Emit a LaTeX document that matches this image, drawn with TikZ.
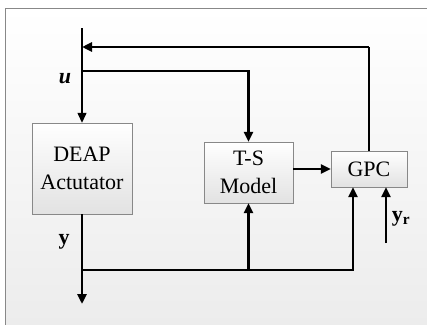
\documentclass[tikz,border=0pt]{standalone}
\usepackage{fontspec}
\setmainfont{Liberation Serif}
\usetikzlibrary{arrows.meta,positioning,shadows}
\definecolor{boxgray}{RGB}{136,136,136}
\definecolor{boxfill}{RGB}{226,226,226}
\definecolor{bgfill}{RGB}{236,236,236}
\tikzstyle{block} = [rectangle, draw=boxgray, top color=white, bottom color=boxfill,
    drop shadow={shadow xshift=1pt, shadow yshift=-1pt, opacity=0.35},
    font=\fontsize{22}{28}\selectfont, align=center, inner sep=0pt]
\tikzstyle{sig} = [line width=2.6pt, -{Triangle[length=10pt, width=9pt]}]
\tikzstyle{thin} = [line width=1.3pt]
\tikzstyle{lbl} = [font=\fontsize{22}{26}\selectfont]

\begin{document}
\begin{tikzpicture}[x=1pt, y=-1pt]
\useasboundingbox (0,0) rectangle (427,324);
% background frame
\shade[top color=white, bottom color=bgfill, draw=boxgray] (5,8) rectangle (429,326);
% blocks
\node[block, minimum width=100pt, minimum height=91pt] (deap) at (82,168.5) {DEAP\\Actutator};
\node[block, minimum width=89pt, minimum height=61pt] (ts) at (248.5,172.5) {T-S\\Model};
\node[block, minimum width=76pt, minimum height=36pt] (gpc) at (369,169) {GPC};
% junctions
\coordinate (top) at (82,28);
\coordinate (fb) at (82,47);
\coordinate (ubr) at (82,71);
\coordinate (ybr) at (82,270);
\coordinate (out) at (82,304);
\coordinate (yr) at (386,243);
% input u
\draw[thin, -{Triangle[length=10pt, width=9pt]}] (top) -- (deap.north);
\draw[thin] (gpc.north) -- (gpc.north |- fb);
\draw[sig] (gpc.north |- fb) -- (fb);
\draw[sig] (ubr) -| (ts.north);
% output y
\draw[sig] (deap.south) -- (out);
\draw[sig] (ybr) -| ([xshift=-16pt]gpc.south);
\draw[sig] (ts.south |- ybr) -- (ts.south);
\draw[sig] (ts.east |- gpc) -- (gpc.west);
\draw[sig] (yr) -- (yr |- gpc.south);
% labels
\node[lbl] (ulbl) at (65,79) {\textbf{\textit{u}}};
\node[lbl] (ylbl) at (64,242) {\textbf{y}};
\node[lbl] (yrlbl) at (401,219) {\textbf{y\textsubscript{r}}};
\end{tikzpicture}
\end{document}
